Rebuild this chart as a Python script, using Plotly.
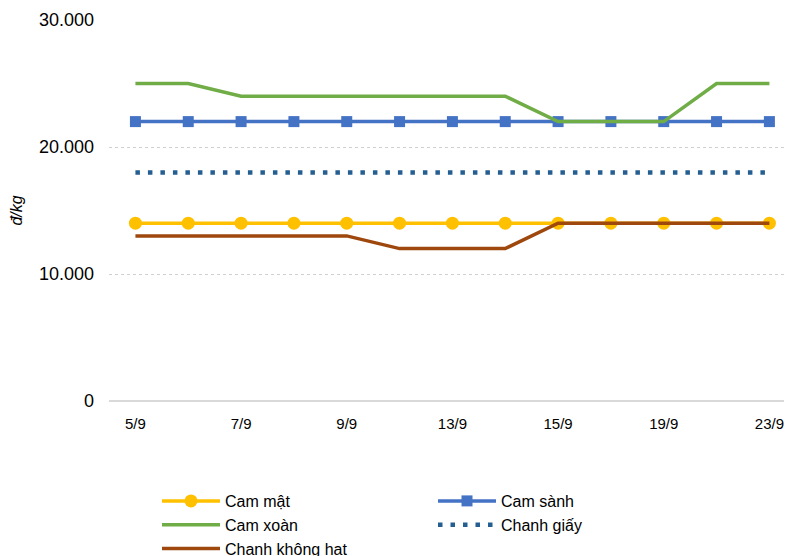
import plotly.graph_objects as go

# ngày (trục hoành) - chỉ hiển thị nhãn xen kẽ
ngay = ["5/9", "6/9", "7/9", "8/9", "9/9", "12/9", "13/9",
        "14/9", "15/9", "18/9", "19/9", "21/9", "23/9"]

cam_mat = [14000] * 13
cam_sanh = [22000] * 13
cam_xoan = [25000, 25000, 24000, 24000, 24000, 24000, 24000,
            24000, 22000, 22000, 22000, 25000, 25000]
chanh_giay = [18000] * 13
chanh_khong_hat = [13000, 13000, 13000, 13000, 13000, 12000, 12000,
                   12000, 14000, 14000, 14000, 14000, 14000]

y_ticks = [0, 10000, 20000, 30000]
y_labels = ["0", "10.000", "20.000", "30.000"]

fig = go.Figure()

fig.add_trace(go.Scatter(
    x=ngay, y=cam_mat, name="Cam mật", mode="lines+markers",
    line=dict(color="#FFC000", width=3.5),
    marker=dict(symbol="circle", size=13, color="#FFC000"),
))
fig.add_trace(go.Scatter(
    x=ngay, y=cam_sanh, name="Cam sành", mode="lines+markers",
    line=dict(color="#4472C4", width=3.5),
    marker=dict(symbol="square", size=11, color="#4472C4"),
))
fig.add_trace(go.Scatter(
    x=ngay, y=cam_xoan, name="Cam xoàn", mode="lines",
    line=dict(color="#70AD47", width=3.5),
))
fig.add_trace(go.Scatter(
    x=ngay, y=chanh_giay, name="Chanh giấy", mode="lines",
    line=dict(color="#255E91", width=4.5, dash="4.5px,8px"),
))
fig.add_trace(go.Scatter(
    x=ngay, y=chanh_khong_hat, name="Chanh không hat", mode="lines",
    line=dict(color="#9E480E", width=3.5),
))

# trang html có lề body 8px nên bù lại ở đây
fig.update_layout(
    width=792, height=556,
    margin=dict(l=101, r=10, t=12, b=163, autoexpand=False),
    plot_bgcolor="white", paper_bgcolor="white",
    font=dict(family="Liberation Sans, Arial, sans-serif", size=17, color="#000000"),
    showlegend=True,
    legend=dict(
        orientation="h", xref="container", yref="container",
        x=149 / 792, y=1 - 476 / 556, xanchor="left", yanchor="top",
        entrywidth=203, font=dict(size=16), tracegroupgap=0,
        traceorder="normal", itemwidth=58,
    ),
)

fig.update_xaxes(
    type="category", range=[-0.5, 12.39],
    tickvals=ngay[::2], ticktext=ngay[::2],
    tickfont=dict(size=15),
    showgrid=False, showline=False, zeroline=False,
    ticks="", ticklabelstandoff=12,
)
fig.update_yaxes(
    range=[0, 30000], tickvals=y_ticks, ticktext=y_labels,
    tickfont=dict(size=18),
    showgrid=True, gridcolor="#D0D0D0", griddash="dot", gridwidth=1,
    zeroline=True, zerolinecolor="#D9D9D9", zerolinewidth=2,
    showline=False, ticks="", ticklabelstandoff=14,
    title=dict(text="<i>đ/kg</i>", standoff=12, font=dict(size=16)),
)

fig.write_html("out.html")
